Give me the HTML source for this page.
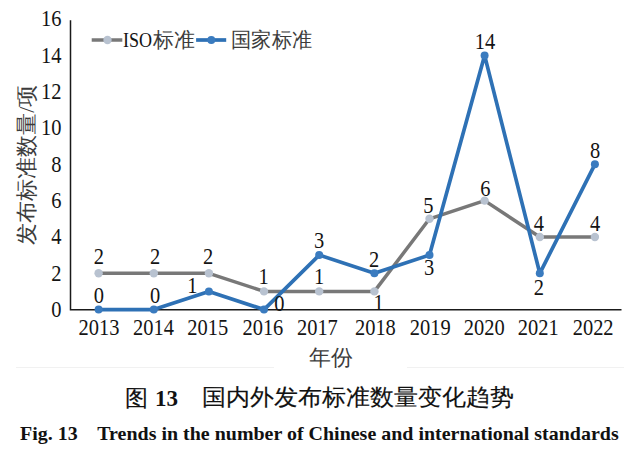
<!DOCTYPE html>
<html><head><meta charset="utf-8"><style>
html,body{margin:0;padding:0;background:#fff;width:628px;height:452px;overflow:hidden}
svg{position:absolute;left:0;top:0}
.n{font-family:"Liberation Serif",serif;font-size:22px;fill:#141414}
.cj{font-family:"Liberation Serif",serif;font-size:20px;fill:#3c3c3c}
</style></head><body>
<svg width="628" height="452" viewBox="0 0 628 452">
<path d="M16 367.5H274M407 367.5H624" stroke="#f1f1f1" stroke-width="1"/>
<path d="M70.5 20.2 V309.8 H621.5" fill="none" stroke="#1a1a1a" stroke-width="1.5"/>
<text transform="translate(61.5,317.0) scale(0.93,1.08)" text-anchor="end" class="n">0</text>
<text transform="translate(61.5,280.7) scale(0.93,1.08)" text-anchor="end" class="n">2</text>
<text transform="translate(61.5,244.4) scale(0.93,1.08)" text-anchor="end" class="n">4</text>
<text transform="translate(61.5,208.0) scale(0.93,1.08)" text-anchor="end" class="n">6</text>
<text transform="translate(61.5,171.7) scale(0.93,1.08)" text-anchor="end" class="n">8</text>
<text transform="translate(61.5,135.4) scale(0.93,1.08)" text-anchor="end" class="n">10</text>
<text transform="translate(61.5,99.1) scale(0.93,1.08)" text-anchor="end" class="n">12</text>
<text transform="translate(61.5,62.8) scale(0.93,1.08)" text-anchor="end" class="n">14</text>
<text transform="translate(61.5,26.4) scale(0.93,1.08)" text-anchor="end" class="n">16</text>
<text transform="translate(99.05,334.6) scale(0.93,1.08)" text-anchor="middle" class="n">2013</text>
<text transform="translate(153.50,334.6) scale(0.93,1.08)" text-anchor="middle" class="n">2014</text>
<text transform="translate(207.80,334.6) scale(0.93,1.08)" text-anchor="middle" class="n">2015</text>
<text transform="translate(262.90,334.6) scale(0.93,1.08)" text-anchor="middle" class="n">2016</text>
<text transform="translate(317.40,334.6) scale(0.93,1.08)" text-anchor="middle" class="n">2017</text>
<text transform="translate(375.40,334.6) scale(0.93,1.08)" text-anchor="middle" class="n">2018</text>
<text transform="translate(430.30,334.6) scale(0.93,1.08)" text-anchor="middle" class="n">2019</text>
<text transform="translate(484.30,334.6) scale(0.93,1.08)" text-anchor="middle" class="n">2020</text>
<text transform="translate(538.20,334.6) scale(0.93,1.08)" text-anchor="middle" class="n">2021</text>
<text transform="translate(593.15,334.6) scale(0.93,1.08)" text-anchor="middle" class="n">2022</text>
<polyline points="98.6,273.3 153.8,273.3 208.9,273.3 264.0,291.4 319.2,291.4 374.4,291.4 429.5,218.8 484.6,200.6 539.8,237.0 594.9,237.0" fill="none" stroke="#787878" stroke-width="3.5" stroke-linejoin="round"/>
<circle cx="98.6" cy="273.3" r="4.2" fill="#b8c2d0"/>
<circle cx="153.8" cy="273.3" r="4.2" fill="#b8c2d0"/>
<circle cx="208.9" cy="273.3" r="4.2" fill="#b8c2d0"/>
<circle cx="264.0" cy="291.4" r="4.2" fill="#b8c2d0"/>
<circle cx="319.2" cy="291.4" r="4.2" fill="#b8c2d0"/>
<circle cx="374.4" cy="291.4" r="4.2" fill="#b8c2d0"/>
<circle cx="429.5" cy="218.8" r="4.2" fill="#b8c2d0"/>
<circle cx="484.6" cy="200.6" r="4.2" fill="#b8c2d0"/>
<circle cx="539.8" cy="237.0" r="4.2" fill="#b8c2d0"/>
<circle cx="594.9" cy="237.0" r="4.2" fill="#b8c2d0"/>
<polyline points="98.6,309.6 153.8,309.6 208.9,291.4 264.0,309.6 319.2,255.1 374.4,273.3 429.5,255.1 484.6,55.4 539.8,273.3 594.9,164.3" fill="none" stroke="#2e71b5" stroke-width="3.7" stroke-linejoin="round"/>
<circle cx="98.6" cy="309.6" r="4.0" fill="#3a7bbf"/>
<circle cx="153.8" cy="309.6" r="4.0" fill="#3a7bbf"/>
<circle cx="208.9" cy="291.4" r="4.0" fill="#3a7bbf"/>
<circle cx="264.0" cy="309.6" r="4.0" fill="#3a7bbf"/>
<circle cx="319.2" cy="255.1" r="4.0" fill="#3a7bbf"/>
<circle cx="374.4" cy="273.3" r="4.0" fill="#3a7bbf"/>
<circle cx="429.5" cy="255.1" r="4.0" fill="#3a7bbf"/>
<circle cx="484.6" cy="55.4" r="4.0" fill="#3a7bbf"/>
<circle cx="539.8" cy="273.3" r="4.0" fill="#3a7bbf"/>
<circle cx="594.9" cy="164.3" r="4.0" fill="#3a7bbf"/>
<text transform="translate(98.9,264.3) scale(0.93,1.08)" text-anchor="middle" class="n">2</text>
<text transform="translate(155.2,263.9) scale(0.93,1.08)" text-anchor="middle" class="n">2</text>
<text transform="translate(208.2,263.9) scale(0.93,1.08)" text-anchor="middle" class="n">2</text>
<text transform="translate(263.5,284.2) scale(0.93,1.08)" text-anchor="middle" class="n">1</text>
<text transform="translate(319.0,284.2) scale(0.93,1.08)" text-anchor="middle" class="n">1</text>
<text transform="translate(378.5,309.6) scale(0.93,1.08)" text-anchor="middle" class="n">1</text>
<text transform="translate(428.4,213.0) scale(0.93,1.08)" text-anchor="middle" class="n">5</text>
<text transform="translate(485.4,195.5) scale(0.93,1.08)" text-anchor="middle" class="n">6</text>
<text transform="translate(538.8,231.2) scale(0.93,1.08)" text-anchor="middle" class="n">4</text>
<text transform="translate(595.0,231.2) scale(0.93,1.08)" text-anchor="middle" class="n">4</text>
<text transform="translate(98.9,302.8) scale(0.93,1.08)" text-anchor="middle" class="n">0</text>
<text transform="translate(155.2,302.8) scale(0.93,1.08)" text-anchor="middle" class="n">0</text>
<text transform="translate(192.4,292.5) scale(0.93,1.08)" text-anchor="middle" class="n">1</text>
<text transform="translate(279.3,310.7) scale(0.93,1.08)" text-anchor="middle" class="n">0</text>
<text transform="translate(319.0,247.7) scale(0.93,1.08)" text-anchor="middle" class="n">3</text>
<text transform="translate(374.1,267.3) scale(0.93,1.08)" text-anchor="middle" class="n">2</text>
<text transform="translate(429.0,274.6) scale(0.93,1.08)" text-anchor="middle" class="n">3</text>
<text transform="translate(484.9,48.8) scale(0.93,1.08)" text-anchor="middle" class="n">14</text>
<text transform="translate(538.8,295.4) scale(0.93,1.08)" text-anchor="middle" class="n">2</text>
<text transform="translate(595.0,158.2) scale(0.93,1.08)" text-anchor="middle" class="n">8</text>
<line x1="91.7" y1="40" x2="122.3" y2="40" stroke="#787878" stroke-width="3.5"/>
<circle cx="107.5" cy="40" r="4.2" fill="#b8c2d0"/>
<text transform="translate(123,46.6) scale(0.86,1)" class="n" style="font-size:21px">ISO</text>
<text x="153" y="47" class="cj" style="font-size:20.5px">标准</text>
<line x1="196.1" y1="40" x2="226.2" y2="40" stroke="#2e71b5" stroke-width="3.7"/>
<circle cx="211.3" cy="40" r="4.0" fill="#3a7bbf"/>
<text x="231" y="47" class="cj" style="font-size:20.5px" textLength="81" lengthAdjust="spacingAndGlyphs">国家标准</text>
<text transform="translate(34,164.7) rotate(-90)" text-anchor="middle" class="cj" style="font-size:22px">发布标准数量/项</text>
<text x="330.5" y="364.5" text-anchor="middle" class="cj" style="font-size:22px">年份</text>
<text x="124.5" y="405.6" style="font-family:'Liberation Sans',sans-serif;font-size:23px;fill:#111;stroke:#111;stroke-width:0.15">图</text>
<text x="155" y="405.8" style="font-family:'Liberation Serif',serif;font-weight:bold;font-size:23px;fill:#111">13</text>
<text x="202.3" y="405.3" style="font-family:'Liberation Sans',sans-serif;font-size:22.5px;fill:#111;stroke:#111;stroke-width:0.15" textLength="311.5" lengthAdjust="spacingAndGlyphs">国内外发布标准数量变化趋势</text>
<g transform="translate(20,440.2) scale(1.11,1.02)"><text x="0" y="0" style="font-family:'Liberation Serif',serif;font-weight:bold;font-size:18px;fill:#111" xml:space="preserve">Fig. 13    Trends in the number of Chinese and international standards</text></g>
</svg>
</body></html>
